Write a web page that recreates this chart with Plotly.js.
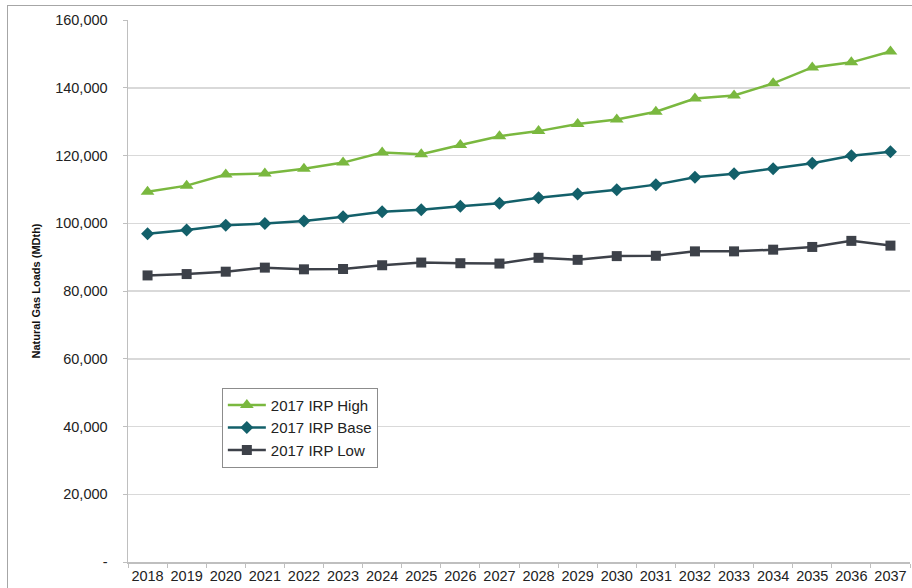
<!DOCTYPE html>
<html>
<head>
<meta charset="utf-8">
<script src="https://cdn.plot.ly/plotly-3.0.1.min.js"></script>
<style>
  html, body { margin: 0; padding: 0; background: #ffffff; }
  #chart { width: 912px; height: 588px; }
  #frame {
    position: absolute; left: 7px; top: 5px; width: 905px; height: 583px;
    border-top: 1.5px solid #a6a6a6; border-left: 1.5px solid #a6a6a6;
    pointer-events: none; box-sizing: border-box;
  }
</style>
</head>
<body>
<div id="chart"></div>
<div id="frame"></div>
<script>
// Forecast years
const years = ["2018","2019","2020","2021","2022","2023","2024","2025","2026","2027",
               "2028","2029","2030","2031","2032","2033","2034","2035","2036","2037"];

// Natural gas load forecasts (MDth)
const irpHigh = [109300,111100,114400,114700,116100,117900,120900,120400,123100,125700,
                 127200,129300,130600,132900,136800,137700,141300,146000,147500,150700];
const irpBase = [96900,98000,99400,99900,100700,101900,103400,104000,105000,105900,
                 107500,108600,109900,111400,113600,114600,116100,117700,119900,121100];
const irpLow  = [84600,85000,85700,86900,86400,86500,87600,88400,88200,88100,
                 89800,89200,90300,90400,91700,91700,92200,93000,94800,93400];

// Y axis ticks
const yTickVals = [0,20000,40000,60000,80000,100000,120000,140000,160000];
const yTickText = ["-","20,000","40,000","60,000","80,000","100,000","120,000","140,000","160,000"];

const font = "Liberation Sans, Arial, sans-serif";

const traces = [
  {
    x: years, y: irpHigh, name: "2017 IRP High", type: "scatter", mode: "lines+markers",
    legendgroup: "h",
    line: { color: "#7ab83f", width: 2.5 },
    marker: { symbol: "triangle-up", size: 12, color: "#7ab83f" }
  },
  {
    x: years, y: irpBase, name: "2017 IRP Base", type: "scatter", mode: "lines+markers",
    legendgroup: "b",
    line: { color: "#13606a", width: 2.5 },
    marker: { symbol: "diamond", size: 10, color: "#13606a" }
  },
  {
    x: years, y: irpLow, name: "2017 IRP Low", type: "scatter", mode: "lines+markers",
    legendgroup: "l",
    line: { color: "#3d4149", width: 2.5 },
    marker: { symbol: "square", size: 10, color: "#3d4149" }
  }
];

const layout = {
  width: 912, height: 588,
  margin: { l: 128, r: 2, t: 20, b: 26, pad: 0 },
  paper_bgcolor: "#ffffff", plot_bgcolor: "#ffffff",
  font: { family: font, size: 14.5, color: "#222222" },
  showlegend: true,
  legend: {
    x: 0.12, y: 0.3215, xanchor: "left", yanchor: "top",
    bordercolor: "#8c8c8c", borderwidth: 1, bgcolor: "#ffffff",
    font: { family: font, size: 15, color: "#222222" },
    tracegroupgap: 5, traceorder: "normal", itemwidth: 38
  },
  xaxis: {
    type: "category", range: [-0.5, 19.5],
    showgrid: false, zeroline: false,
    showline: true, linecolor: "#bfbfbf", linewidth: 1.5,
    ticks: "outside", ticklen: 4, tickcolor: "#bfbfbf", tickson: "boundaries",
    tickangle: 0,
    tickfont: { family: font, size: 14.5, color: "#222222" },
    fixedrange: true
  },
  yaxis: {
    range: [0, 160000],
    tickvals: yTickVals, ticktext: yTickText,
    showgrid: true, gridcolor: "#d9d9d9", gridwidth: 1.5,
    zeroline: false,
    showline: true, linecolor: "#bfbfbf", linewidth: 1.5,
    ticks: "outside", ticklen: 4, tickcolor: "#bfbfbf",
    ticklabelstandoff: 12,
    tickfont: { family: font, size: 14.5, color: "#222222" },
    title: { text: "Natural Gas Loads (MDth)", standoff: 12,
             font: { family: font, size: 11, color: "#111111", weight: "bold" } },
    fixedrange: true
  }
};

Plotly.newPlot("chart", traces, layout, { displayModeBar: false, staticPlot: true });
</script>
</body>
</html>
